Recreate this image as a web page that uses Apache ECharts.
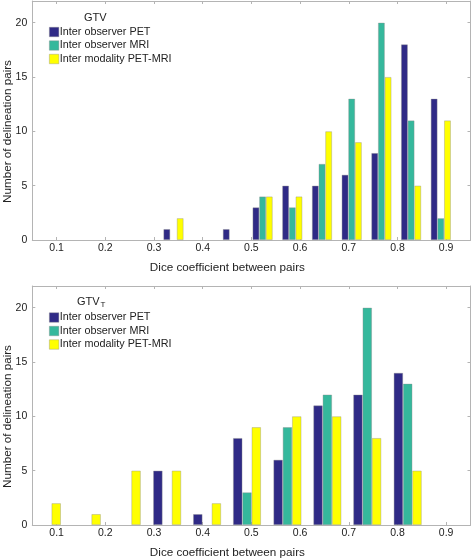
<!DOCTYPE html>
<html>
<head>
<meta charset="utf-8">
<script src="https://cdn.jsdelivr.net/npm/echarts@6/dist/echarts.min.js"></script>
<style>
html,body{margin:0;padding:0;background:#fff;}
#c{width:472px;height:560px;}
</style>
</head>
<body>
<div id="c"></div>
<script>
// ---- data ----
const seriesNames = ['Inter observer PET', 'Inter observer MRI', 'Inter modality PET-MRI'];
const xTicks = [0.1, 0.2, 0.3, 0.4, 0.5, 0.6, 0.7, 0.8, 0.9];
const yTicks = [0, 5, 10, 15, 20];

// Top panel (GTV): bin centres and counts
const binsGTV = [0.096, 0.157, 0.218, 0.279, 0.340, 0.401, 0.462, 0.523, 0.584, 0.645, 0.706, 0.767, 0.828, 0.889];
const gtvPET    = [0, 0, 0, 0, 1, 0, 1, 3, 5, 5, 6, 8, 18, 13];
const gtvMRI    = [0, 0, 0, 0, 0, 0, 0, 4, 3, 7, 13, 20, 11, 2];
const gtvPETMRI = [0, 0, 0, 0, 2, 0, 0, 4, 4, 10, 9, 15, 5, 11];

// Bottom panel (GTV_T): bin centres and counts
const binsGTVT = [0.080, 0.162, 0.244, 0.327, 0.409, 0.491, 0.574, 0.656, 0.738, 0.821];
const gtvtPET    = [0, 0, 0, 5, 1, 8, 6, 11, 12, 14];
const gtvtMRI    = [0, 0, 0, 0, 0, 3, 9, 12, 20, 13];
const gtvtPETMRI = [2, 1, 5, 5, 2, 9, 10, 10, 8, 5];

// ---- styling ----
const colors = ['#2f2a86', '#35b89c', '#ffff00'];
const FONT = "'Liberation Sans', Arial, Helvetica, sans-serif";
const axisGray = '#b4b4b4';
const textCol = '#222';

function pairs(bins, vals) {
  return bins.map((b, i) => [b, vals[i]]).filter(p => p[1] > 0);
}

function makeX(gridIndex, main) {
  return {
    type: 'value', gridIndex: gridIndex, min: 0.05, max: 0.95,
    position: main ? 'bottom' : 'top',
    splitLine: {show: false},
    axisLine: {show: true, onZero: false, lineStyle: {color: axisGray, width: 1}},
    axisTick: {show: true, inside: true, length: 3, customValues: xTicks, lineStyle: {color: axisGray}},
    axisLabel: main ? {show: true, customValues: xTicks, margin: 3, color: textCol, fontSize: 10.5, fontFamily: FONT,
      formatter: v => String(v)} : {show: false},
    name: main ? 'Dice coefficient between pairs' : '',
    nameLocation: 'middle', nameGap: 22, nameMoveOverlap: false,
    nameTextStyle: {color: textCol, fontSize: 11.7, fontFamily: FONT, padding: [0, 48, 0, 0]}
  };
}
function makeY(gridIndex, main) {
  return {
    type: 'value', gridIndex: gridIndex, min: 0, max: 22,
    position: main ? 'left' : 'right',
    splitLine: {show: false},
    axisLine: {show: true, onZero: false, lineStyle: {color: axisGray, width: 1}},
    axisTick: {show: true, inside: true, length: 3, customValues: yTicks, lineStyle: {color: axisGray}},
    axisLabel: main ? {show: true, customValues: yTicks, margin: 5, color: textCol, fontSize: 10.5, fontFamily: FONT} : {show: false},
    name: main ? 'Number of delineation pairs' : '',
    nameLocation: 'middle', nameGap: 19, nameMoveOverlap: false,
    nameTextStyle: {color: textCol, fontSize: 11.7, fontFamily: FONT, padding: [0, 22, 0, 0]}
  };
}

function barSeries(name, idx, data, gi, w) {
  return {
    type: 'bar', name: name, xAxisIndex: gi * 2, yAxisIndex: gi * 2,
    data: data, barWidth: w, barGap: '0%',
    itemStyle: {color: colors[idx], borderColor: 'rgba(140,140,140,0.55)', borderWidth: 0.7},
    emphasis: {disabled: true}, animation: false
  };
}

function legendFor(top) {
  return {
    orient: 'vertical', left: 44, top: top, itemWidth: 9.5, itemHeight: 9.5, itemGap: 2.5,
    icon: 'rect', data: seriesNames,
    itemStyle: {borderColor: 'rgba(140,140,140,0.55)', borderWidth: 0.7},
    textStyle: {color: textCol, fontSize: 10.8, fontFamily: FONT, padding: [0, 0, 0, -4]},
    selectedMode: false
  };
}

const option = {
  backgroundColor: '#fff',
  animation: false,
  color: colors,
  grid: [
    {left: 32.3, right: 1.5, top: 1, height: 239, outerBoundsMode: 'none', containLabel: false},
    {left: 32.3, right: 1.5, top: 286, height: 239, outerBoundsMode: 'none', containLabel: false}
  ],
  xAxis: [makeX(0, true), makeX(0, false), makeX(1, true), makeX(1, false)],
  yAxis: [makeY(0, true), makeY(0, false), makeY(1, true), makeY(1, false)],
  legend: [legendFor(21.5), legendFor(307)],
  title: [
    {text: 'GTV', left: 84, top: 12, padding: 0, textStyle: {color: textCol, fontSize: 11, fontWeight: 'normal', fontFamily: FONT}},
    {text: '{a|GTV}{s|T}', left: 77, top: 294, padding: 0,
      textStyle: {fontWeight: 'normal', rich: {
        a: {color: textCol, fontSize: 11, fontWeight: 'normal', fontFamily: FONT},
        s: {color: textCol, fontSize: 8, fontWeight: 'normal', fontFamily: FONT, padding: [7, 0, 0, 1]}
      }}}
  ],
  series: [
    barSeries(seriesNames[0], 0, pairs(binsGTV, gtvPET), 0, 6.67),
    barSeries(seriesNames[1], 1, pairs(binsGTV, gtvMRI), 0, 6.67),
    barSeries(seriesNames[2], 2, pairs(binsGTV, gtvPETMRI), 0, 6.67),
    barSeries(seriesNames[0], 0, pairs(binsGTVT, gtvtPET), 1, 9.3),
    barSeries(seriesNames[1], 1, pairs(binsGTVT, gtvtMRI), 1, 9.3),
    barSeries(seriesNames[2], 2, pairs(binsGTVT, gtvtPETMRI), 1, 9.3)
  ]
};

const chart = echarts.init(document.getElementById('c'), null, {renderer: 'canvas'});
chart.setOption(option);
</script>
</body>
</html>
